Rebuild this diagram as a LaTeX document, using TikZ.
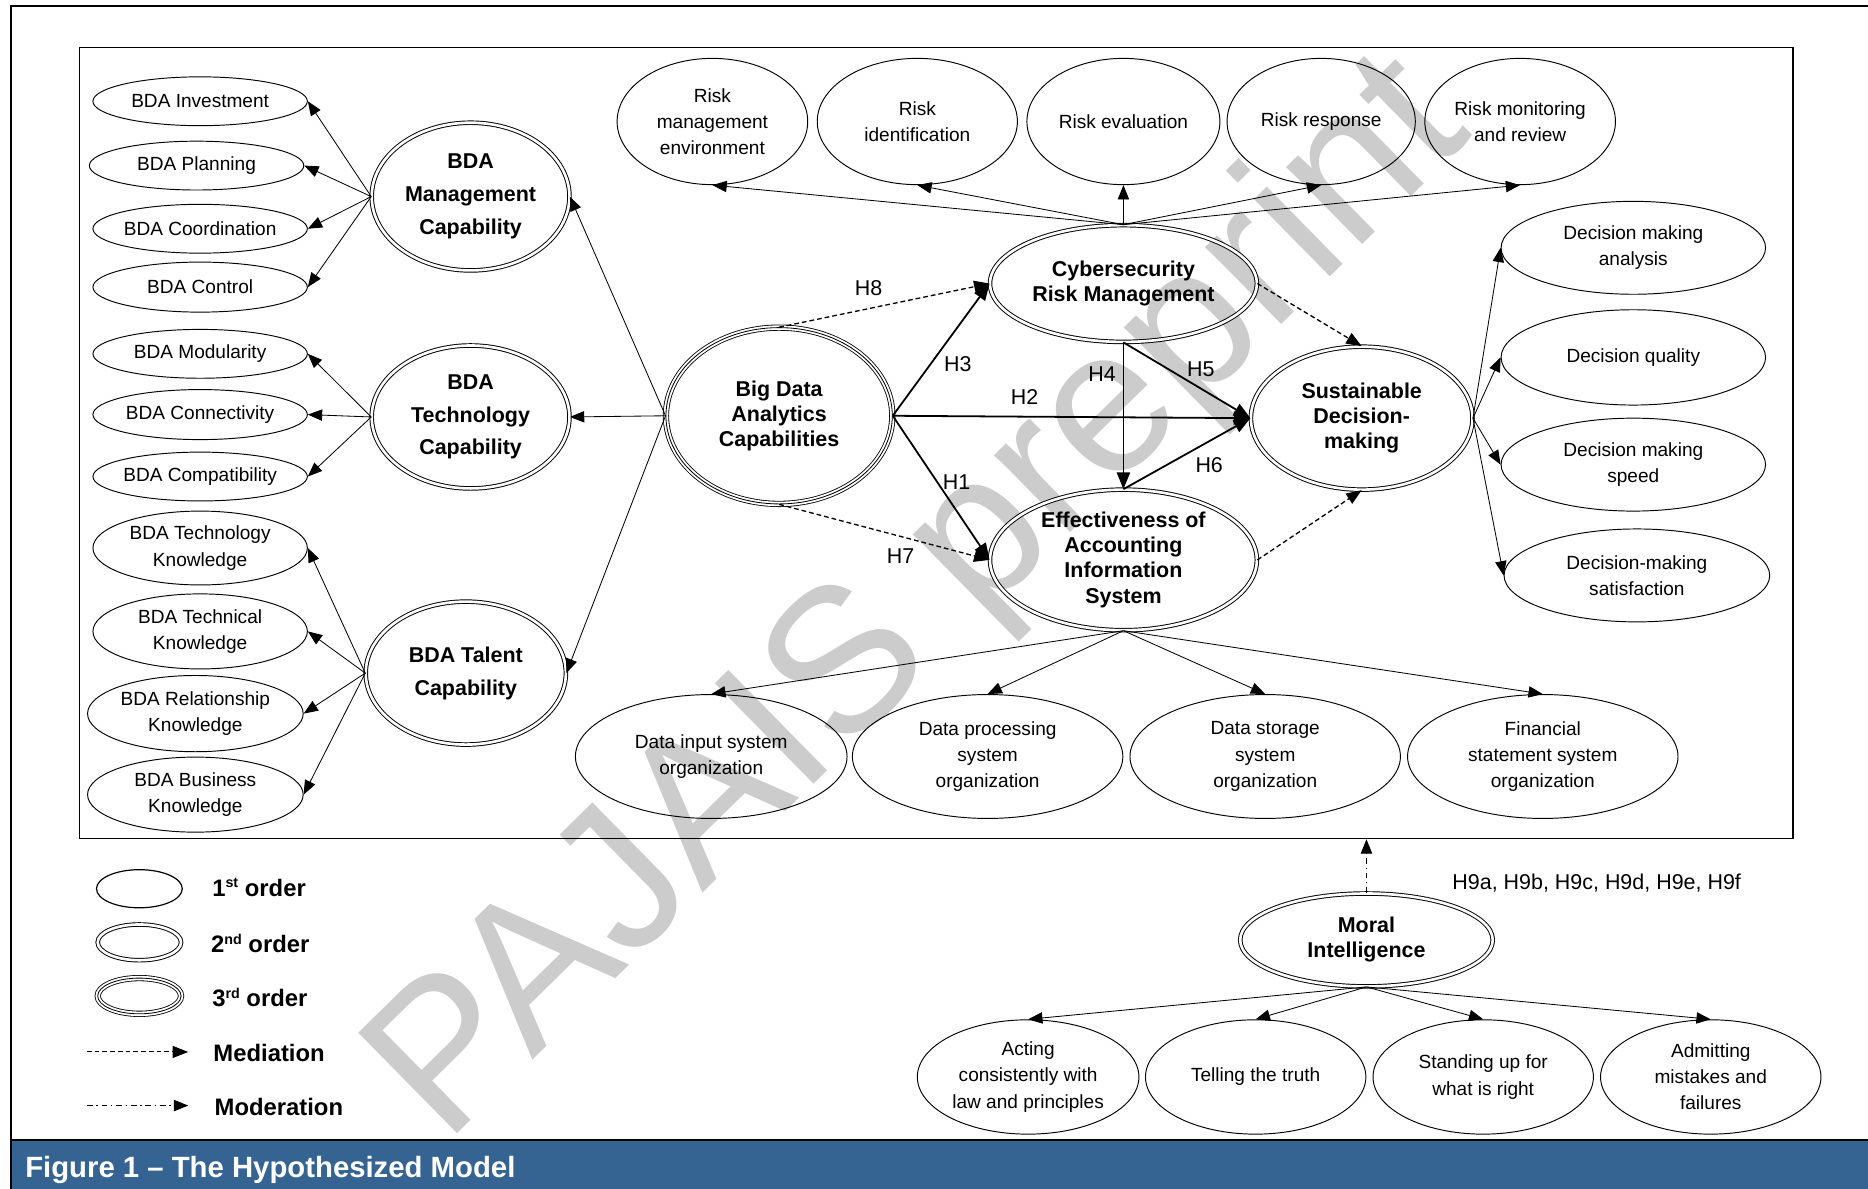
\documentclass[tikz,border=0pt]{standalone}
\usepackage{fontspec}
\setmainfont{Liberation Sans}
\usetikzlibrary{shapes.geometric,arrows.meta}
\definecolor{capblue}{RGB}{53,99,146}
\definecolor{wmgray}{RGB}{204,204,204}
\newcommand\legsup[1]{\raisebox{7pt}{\fontsize{12}{12}\selectfont #1}}
\begin{document}
\begin{tikzpicture}[x=1pt,y=-1pt,
  ind/.style={ellipse,draw,line width=0.8pt,inner xsep=-30pt,inner ysep=-15pt,align=center,font=\fontsize{16}{22}\selectfont},
  sec/.style={ellipse,draw,double,double distance=2.2pt,line width=0.8pt,inner xsep=-30pt,inner ysep=-15pt,align=center,font=\bfseries\fontsize{18}{21}\selectfont},
  ter/.style={ellipse,draw,double,double distance=3.8pt,line width=0.7pt,inner xsep=-30pt,inner ysep=-15pt,align=center,font=\bfseries\fontsize{18}{21}\selectfont},
  capfont/.style={font=\bfseries\fontsize{18}{27.5}\selectfont},
  arr/.style={-{Triangle[length=12pt,width=9.5pt]},line width=0.7pt},
  tarr/.style={-{Triangle[length=14pt,width=11pt]},line width=1.5pt},
  darr/.style={-{Triangle[length=13pt,width=10pt]},line width=1.1pt,dash pattern=on 4pt off 2.5pt},
  marr/.style={-{Triangle[length=12pt,width=9.5pt]},line width=0.8pt,dash pattern=on 5pt off 3pt on 1.2pt off 3pt},
  hlab/.style={font=\fontsize{18}{20}\selectfont,inner sep=0pt},
  leg/.style={font=\bfseries\fontsize{20}{22}\selectfont,anchor=west,inner sep=0pt},
]
\useasboundingbox (0,0) rectangle (1568,998);
% watermark
\node[rotate=44.5,anchor=base west,inner sep=0pt,text=wmgray,font=\fontsize{172}{172}\selectfont] (wmark) at (374,962) {PAJAIS preprint};
% outer frame and caption band
\fill[capblue] (9,957) rectangle (1568,998);
\draw[line width=2pt] (9,998) -- (9,5) -- (1568,5);
\draw[line width=2pt] (9,957) -- (1568,957);
\node[anchor=base west,text=white,font=\bfseries\fontsize{24.6}{26}\selectfont,inner sep=0pt] (cap) at (21,988) {Figure 1 – The Hypothesized Model};
% inner frame
\node[draw,line width=0.9pt,minimum width=1438,minimum height=664,inner sep=0pt] (frame) at (786,372) {};

% left indicators
\node[ind,minimum width=180,minimum height=41] (inv) at (168,85) {BDA Investment};
\node[ind,minimum width=180,minimum height=41] (pla) at (165,139) {BDA Planning};
\node[ind,minimum width=180,minimum height=41] (coo) at (168,192) {BDA Coordination};
\node[ind,minimum width=180,minimum height=42] (con) at (168,241) {BDA Control};
\node[ind,minimum width=180,minimum height=41] (mod) at (168,297) {BDA Modularity};
\node[ind,minimum width=180,minimum height=42] (cnn) at (168,348) {BDA Connectivity};
\node[ind,minimum width=180,minimum height=41] (cmp) at (168,400) {BDA Compatibility};
\node[ind,minimum width=180,minimum height=62] (tkn) at (168,460) {BDA Technology\\Knowledge};
\node[ind,minimum width=180,minimum height=63] (tcn) at (168,530) {BDA Technical\\Knowledge};
\node[ind,minimum width=181,minimum height=64] (rel) at (164,599) {BDA Relationship\\Knowledge};
\node[ind,minimum width=181,minimum height=63] (bus) at (164,667) {BDA Business\\Knowledge};

% second order BDA
\node[sec,capfont,minimum width=166,minimum height=124] (mgc) at (395,165) {BDA\\Management\\Capability};
\node[sec,capfont,minimum width=166,minimum height=120] (tec) at (395,350) {BDA\\Technology\\Capability};
\node[sec,capfont,minimum width=168,minimum height=120] (tal) at (391,565) {BDA Talent\\Capability};

% third order
\node[ter,minimum width=190,minimum height=148] (bdac) at (654,349) {Big Data\\Analytics\\Capabilities};
\draw[line width=0.7pt] (bdac.center) ellipse [x radius=95, y radius=74];

% constructs
\node[sec,minimum width=224,minimum height=98] (crm) at (943,238) {Cybersecurity\\Risk Management};
\node[sec,minimum width=224,minimum height=118] (eais) at (943,470) {Effectiveness of\\Accounting\\Information\\System};
\node[sec,minimum width=186,minimum height=120] (sdm) at (1143,351) {Sustainable\\Decision-\\making};
\node[sec,minimum width=212,minimum height=78] (mi) at (1147,789) {Moral\\Intelligence};

% risk indicators
\node[ind,minimum width=160,minimum height=106] (rme) at (598,102) {Risk\\management\\environment};
\node[ind,minimum width=168,minimum height=106] (rid) at (770,102) {Risk\\identification};
\node[ind,minimum width=162,minimum height=106] (rev) at (943,102) {Risk evaluation};
\node[ind,minimum width=158,minimum height=106] (rre) at (1109,102) {Risk response};
\node[ind,minimum width=160,minimum height=106] (rmr) at (1276,102) {Risk monitoring\\and review};

% decision indicators
\node[ind,minimum width=222,minimum height=78] (dma) at (1371,208) {Decision making\\analysis};
\node[ind,minimum width=222,minimum height=80] (dqu) at (1371,300) {Decision quality};
\node[ind,minimum width=222,minimum height=78] (dsp) at (1371,390) {Decision making\\speed};
\node[ind,minimum width=223,minimum height=78] (dsa) at (1374,483) {Decision-making\\satisfaction};

% AIS indicators
\node[ind,minimum width=228,minimum height=104] (din) at (597,635) {Data input system\\organization};
\node[ind,minimum width=227,minimum height=104] (dpr) at (829,635) {Data processing\\system\\organization};
\node[ind,minimum width=227,minimum height=104] (dst) at (1062,635) {Data storage\\system\\organization};
\node[ind,minimum width=227,minimum height=104] (fin) at (1295,635) {Financial\\statement system\\organization};

% moral indicators
\node[ind,minimum width=186,minimum height=96] (act) at (863,904) {Acting\\consistently with\\law and principles};
\node[ind,minimum width=185,minimum height=96] (tel) at (1054,904) {Telling the truth};
\node[ind,minimum width=185,minimum height=96] (sta) at (1245,904) {Standing up for\\what is right};
\node[ind,minimum width=185,minimum height=96] (adm) at (1436,904) {Admitting\\mistakes and\\failures};

% measurement arrows
\foreach \t in {inv,pla,coo,con} \draw[arr] (mgc.west) -- (\t.east);
\foreach \t in {mod,cnn,cmp} \draw[arr] (tec.west) -- (\t.east);
\foreach \t in {tkn,tcn,rel,bus} \draw[arr] (tal.west) -- (\t.east);
\foreach \t in {mgc,tec,tal} \draw[arr] (bdac.west) -- (\t.east);
\foreach \t in {rme,rid,rev,rre,rmr} \draw[arr] (crm.north) -- (\t.south);
\foreach \t in {dma,dqu,dsp,dsa} \draw[arr] (sdm.east) -- (\t.west);
\foreach \t in {din,dpr,dst,fin} \draw[arr] (eais.south) -- (\t.north);
\foreach \t in {act,tel,sta,adm} \draw[arr] (mi.south) -- (\t.north);

% structural paths
\draw[tarr] (bdac.east) -- (crm.west);
\draw[tarr] (bdac.east) -- (sdm.west);
\draw[tarr] (bdac.east) -- (eais.west);
\draw[tarr] (crm.south) -- (eais.north);
\draw[tarr] (crm.south) -- (sdm.west);
\draw[tarr] (eais.north) -- (sdm.west);
\draw[darr] (bdac.north) -- (crm.west);
\draw[darr] (bdac.south) -- (eais.west);
\draw[darr] (crm.east) -- (sdm.north);
\draw[darr] (eais.east) -- (sdm.south);
\draw[marr] (mi.north) -- (mi.north |- frame.south);

% path labels
\node[hlab] (h8) at (729,242) {H8};
\node[hlab] (h3) at (804,306) {H3};
\node[hlab] (h2) at (860,333) {H2};
\node[hlab] (h4) at (925,314) {H4};
\node[hlab] (h5) at (1008,310) {H5};
\node[hlab] (h1) at (803,405) {H1};
\node[hlab] (h6) at (1015,390) {H6};
\node[hlab] (h7) at (756,467) {H7};
\node[hlab,anchor=west] (h9) at (1219,741) {H9a, H9b, H9c, H9d, H9e, H9f};

% legend
\node[ind,line width=1pt,minimum width=72,minimum height=32] (lg1) at (117,746) {};
\node[sec,minimum width=70,minimum height=30] (lg2) at (117,791) {};
\node[ter,minimum width=70,minimum height=30] (lg3) at (117,836) {};
\draw[line width=0.7pt] (lg3.center) ellipse [x radius=35, y radius=15];
\node[leg] (lt1) at (178,745) {1\legsup{st} order};
\node[leg] (lt2) at (177,792) {2\legsup{nd} order};
\node[leg] (lt3) at (178,837) {3\legsup{rd} order};
\coordinate (ms) at (73,883);
\coordinate (me) at (158,883);
\coordinate (os) at (73,928);
\coordinate (oe) at (158,928);
\draw[darr,line width=0.9pt] (ms) -- (me);
\draw[marr] (os) -- (oe);
\node[leg] (lt4) at (179,884) {Mediation};
\node[leg] (lt5) at (180,929) {Moderation};
\end{tikzpicture}
\end{document}
